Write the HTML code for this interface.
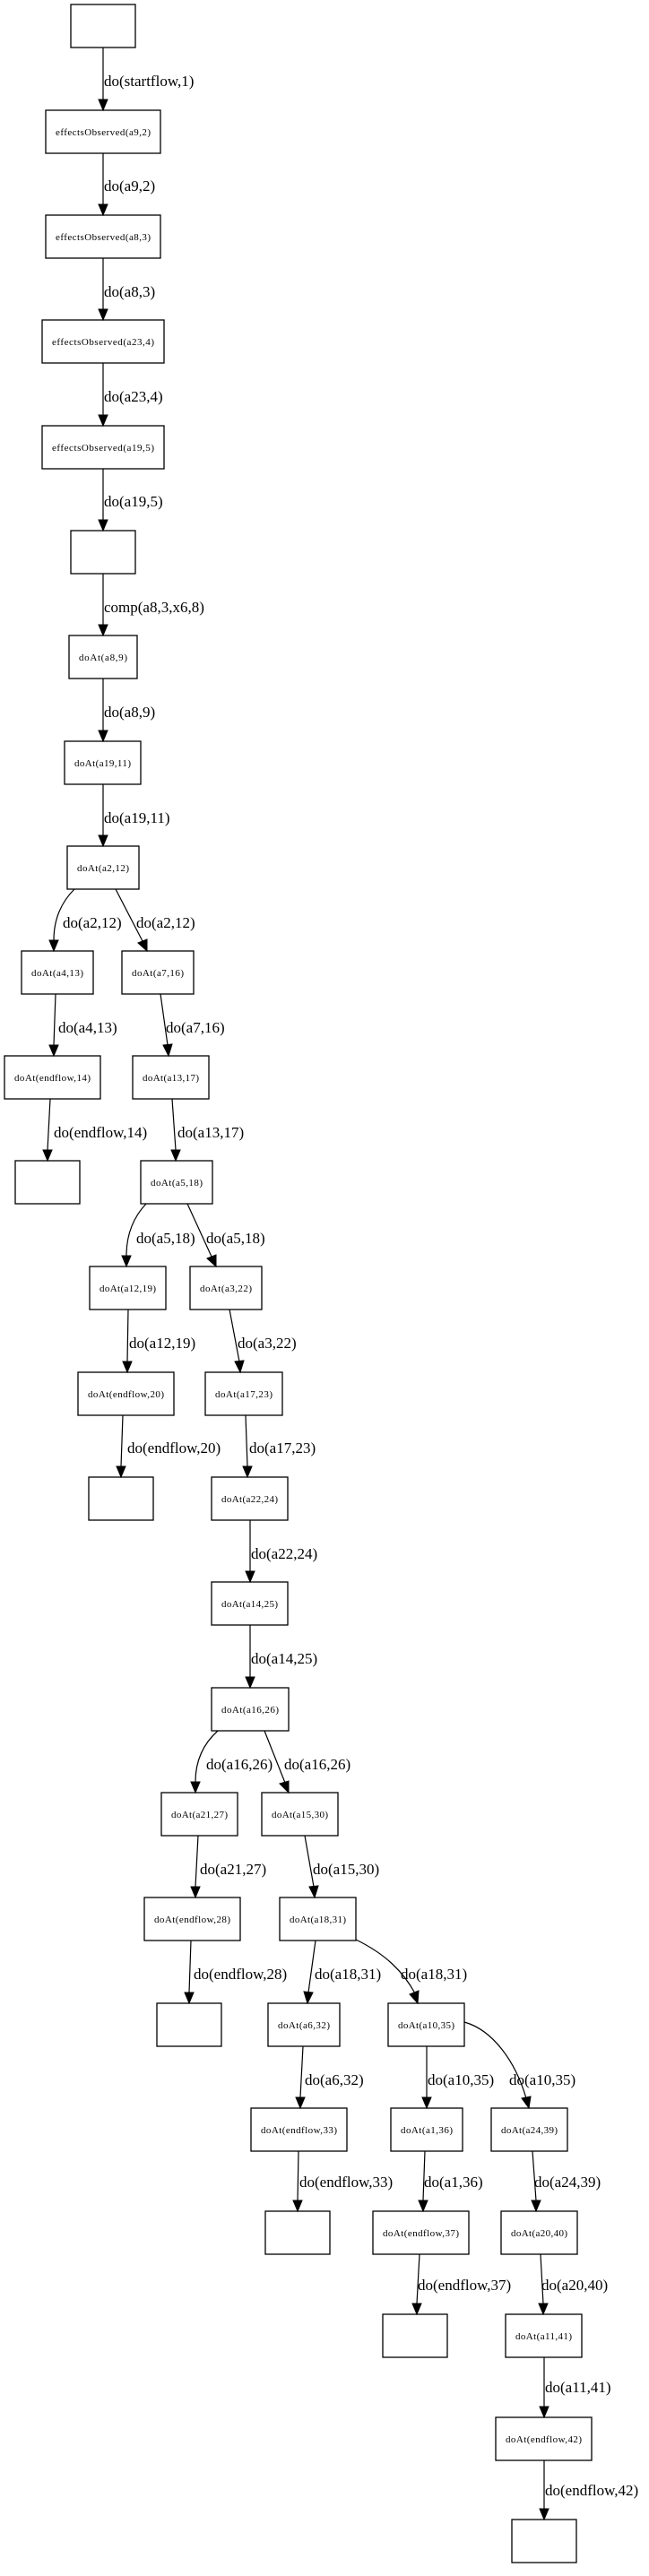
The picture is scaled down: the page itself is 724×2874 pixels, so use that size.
<!DOCTYPE html>
<html><head><meta charset="utf-8"><style>
html,body{margin:0;padding:0;background:#fff;width:724px;height:2874px;overflow:hidden}
svg{display:block}
.n{fill:#fff;stroke:#000;stroke-width:1.3}
.t{font-family:"Liberation Serif",serif;font-size:11px;fill:#000}
.l{font-family:"Liberation Serif",serif;font-size:17px;fill:#000}
.e{fill:none;stroke:#000;stroke-width:1.2}
.a{fill:#000;stroke:#000}
</style></head><body>
<svg width="724" height="2874" viewBox="0 0 724 2874" xmlns="http://www.w3.org/2000/svg">
<g>
<rect class="n" x="79" y="5" width="72" height="48"/>
<rect class="n" x="51" y="123" width="128" height="48"/><text class="t" x="62" y="151" textLength="106">effectsObserved(a9,2)</text>
<rect class="n" x="51" y="240" width="128" height="48"/><text class="t" x="62" y="268" textLength="106">effectsObserved(a8,3)</text>
<rect class="n" x="47" y="357" width="136" height="48"/><text class="t" x="58" y="385" textLength="114">effectsObserved(a23,4)</text>
<rect class="n" x="47" y="475" width="136" height="48"/><text class="t" x="58" y="503" textLength="114">effectsObserved(a19,5)</text>
<rect class="n" x="79" y="592" width="72" height="48"/>
<rect class="n" x="77" y="709" width="76" height="48"/><text class="t" x="88" y="737" textLength="54">doAt(a8,9)</text>
<rect class="n" x="72" y="827" width="85" height="48"/><text class="t" x="83" y="855" textLength="63">doAt(a19,11)</text>
<rect class="n" x="75" y="944" width="80" height="48"/><text class="t" x="86" y="972" textLength="58">doAt(a2,12)</text>
<rect class="n" x="24" y="1061" width="80" height="48"/><text class="t" x="35" y="1089" textLength="58">doAt(a4,13)</text>
<rect class="n" x="136" y="1061" width="80" height="48"/><text class="t" x="147" y="1089" textLength="58">doAt(a7,16)</text>
<rect class="n" x="5" y="1178" width="107" height="48"/><text class="t" x="16" y="1206" textLength="85">doAt(endflow,14)</text>
<rect class="n" x="148" y="1178" width="85" height="48"/><text class="t" x="159" y="1206" textLength="63">doAt(a13,17)</text>
<rect class="n" x="17" y="1295" width="72" height="48"/>
<rect class="n" x="157" y="1295" width="80" height="48"/><text class="t" x="168" y="1323" textLength="58">doAt(a5,18)</text>
<rect class="n" x="100" y="1413" width="85" height="48"/><text class="t" x="111" y="1441" textLength="63">doAt(a12,19)</text>
<rect class="n" x="212" y="1413" width="80" height="48"/><text class="t" x="223" y="1441" textLength="58">doAt(a3,22)</text>
<rect class="n" x="87" y="1531" width="107" height="48"/><text class="t" x="98" y="1559" textLength="85">doAt(endflow,20)</text>
<rect class="n" x="229" y="1531" width="86" height="48"/><text class="t" x="240" y="1559" textLength="64">doAt(a17,23)</text>
<rect class="n" x="99" y="1648" width="72" height="48"/>
<rect class="n" x="236" y="1648" width="85" height="48"/><text class="t" x="247" y="1676" textLength="63">doAt(a22,24)</text>
<rect class="n" x="236" y="1765" width="85" height="48"/><text class="t" x="247" y="1793" textLength="63">doAt(a14,25)</text>
<rect class="n" x="236" y="1883" width="86" height="48"/><text class="t" x="247" y="1911" textLength="64">doAt(a16,26)</text>
<rect class="n" x="180" y="2000" width="85" height="48"/><text class="t" x="191" y="2028" textLength="63">doAt(a21,27)</text>
<rect class="n" x="292" y="2000" width="85" height="48"/><text class="t" x="303" y="2028" textLength="63">doAt(a15,30)</text>
<rect class="n" x="161" y="2117" width="107" height="48"/><text class="t" x="172" y="2145" textLength="85">doAt(endflow,28)</text>
<rect class="n" x="312" y="2117" width="85" height="48"/><text class="t" x="323" y="2145" textLength="63">doAt(a18,31)</text>
<rect class="n" x="175" y="2235" width="72" height="48"/>
<rect class="n" x="299" y="2235" width="80" height="48"/><text class="t" x="310" y="2263" textLength="58">doAt(a6,32)</text>
<rect class="n" x="433" y="2235" width="85" height="48"/><text class="t" x="444" y="2263" textLength="63">doAt(a10,35)</text>
<rect class="n" x="280" y="2352" width="107" height="48"/><text class="t" x="291" y="2380" textLength="85">doAt(endflow,33)</text>
<rect class="n" x="436" y="2352" width="80" height="48"/><text class="t" x="447" y="2380" textLength="58">doAt(a1,36)</text>
<rect class="n" x="548" y="2352" width="85" height="48"/><text class="t" x="559" y="2380" textLength="63">doAt(a24,39)</text>
<rect class="n" x="296" y="2467" width="72" height="48"/>
<rect class="n" x="416" y="2467" width="107" height="48"/><text class="t" x="427" y="2495" textLength="85">doAt(endflow,37)</text>
<rect class="n" x="559" y="2467" width="85" height="48"/><text class="t" x="570" y="2495" textLength="63">doAt(a20,40)</text>
<rect class="n" x="427" y="2582" width="72" height="48"/>
<rect class="n" x="564" y="2582" width="85" height="48"/><text class="t" x="575" y="2610" textLength="63">doAt(a11,41)</text>
<rect class="n" x="553" y="2697" width="107" height="48"/><text class="t" x="564" y="2725" textLength="85">doAt(endflow,42)</text>
<rect class="n" x="571" y="2811" width="72" height="48"/>
</g>
<g>
<path class="e" d="M115,53 L115,111"/><polygon class="a" points="110,111 120,111 115,123"/><text class="l" x="116" y="96">do(startflow,1)</text>
<path class="e" d="M115,171 L115,228"/><polygon class="a" points="110,228 120,228 115,240"/><text class="l" x="116" y="213">do(a9,2)</text>
<path class="e" d="M115,288 L115,345"/><polygon class="a" points="110,345 120,345 115,357"/><text class="l" x="116" y="331">do(a8,3)</text>
<path class="e" d="M115,405 L115,463"/><polygon class="a" points="110,463 120,463 115,475"/><text class="l" x="116" y="448">do(a23,4)</text>
<path class="e" d="M115,523 L115,580"/><polygon class="a" points="110,580 120,580 115,592"/><text class="l" x="116" y="565">do(a19,5)</text>
<path class="e" d="M115,640 L115,697"/><polygon class="a" points="110,697 120,697 115,709"/><text class="l" x="116" y="683">comp(a8,3,x6,8)</text>
<path class="e" d="M115,757 L115,815"/><polygon class="a" points="110,815 120,815 115,827"/><text class="l" x="116" y="800">do(a8,9)</text>
<path class="e" d="M115,875 L115,932"/><polygon class="a" points="110,932 120,932 115,944"/><text class="l" x="116" y="918">do(a19,11)</text>

<path class="e" d="M83,992 C65,1010 60,1030 60,1049"/><polygon class="a" points="55,1049 65,1049 60,1061"/><text class="l" x="70" y="1035">do(a2,12)</text>
<path class="e" d="M129,992 L159,1050"/><polygon class="a" points="154,1052 164,1048 164,1061"/><text class="l" x="152" y="1035">do(a2,12)</text>

<path class="e" d="M62,1109 L60,1166"/><polygon class="a" points="55,1166 65,1166 60,1178"/><text class="l" x="65" y="1152">do(a4,13)</text>
<path class="e" d="M179,1109 L187,1166"/><polygon class="a" points="182,1166 192,1165 188,1178"/><text class="l" x="185" y="1152">do(a7,16)</text>

<path class="e" d="M56,1226 L53,1283"/><polygon class="a" points="48,1283 58,1283 53,1295"/><text class="l" x="60" y="1269">do(endflow,14)</text>
<path class="e" d="M192,1226 L196,1283"/><polygon class="a" points="191,1283 201,1283 196,1295"/><text class="l" x="198" y="1269">do(a13,17)</text>

<path class="e" d="M163,1343 C147,1360 141,1380 141,1401"/><polygon class="a" points="136,1401 146,1401 141,1413"/><text class="l" x="152" y="1387">do(a5,18)</text>
<path class="e" d="M209,1343 L236,1402"/><polygon class="a" points="231,1404 241,1400 241,1413"/><text class="l" x="230" y="1387">do(a5,18)</text>

<path class="e" d="M143,1461 L142,1519"/><polygon class="a" points="137,1519 147,1519 142,1531"/><text class="l" x="144" y="1504">do(a12,19)</text>
<path class="e" d="M256,1461 L267,1519"/><polygon class="a" points="262,1519 272,1518 268,1531"/><text class="l" x="265" y="1504">do(a3,22)</text>

<path class="e" d="M137,1579 L135,1636"/><polygon class="a" points="130,1636 140,1636 135,1648"/><text class="l" x="142" y="1621">do(endflow,20)</text>
<path class="e" d="M274,1579 L276,1636"/><polygon class="a" points="271,1636 281,1636 276,1648"/><text class="l" x="278" y="1621">do(a17,23)</text>

<path class="e" d="M279,1696 L279,1753"/><polygon class="a" points="274,1753 284,1753 279,1765"/><text class="l" x="280" y="1739">do(a22,24)</text>
<path class="e" d="M279,1813 L279,1871"/><polygon class="a" points="274,1871 284,1871 279,1883"/><text class="l" x="280" y="1856">do(a14,25)</text>

<path class="e" d="M243,1931 C224,1948 218,1968 218,1988"/><polygon class="a" points="213,1988 223,1988 218,2000"/><text class="l" x="230" y="1974">do(a16,26)</text>
<path class="e" d="M295,1931 L318,1989"/><polygon class="a" points="312,1990 322,1987 322,2000"/><text class="l" x="317" y="1974">do(a16,26)</text>

<path class="e" d="M221,2048 L218,2105"/><polygon class="a" points="213,2105 223,2105 218,2117"/><text class="l" x="223" y="2091">do(a21,27)</text>
<path class="e" d="M340,2048 L350,2105"/><polygon class="a" points="345,2105 355,2104 351,2117"/><text class="l" x="349" y="2091">do(a15,30)</text>

<path class="e" d="M213,2165 L211,2223"/><polygon class="a" points="206,2223 216,2223 211,2235"/><text class="l" x="216" y="2208">do(endflow,28)</text>
<path class="e" d="M352,2165 L344,2223"/><polygon class="a" points="339,2222 349,2223 343,2235"/><text class="l" x="351" y="2208">do(a18,31)</text>
<path class="e" d="M397,2164 C430,2180 450,2200 463,2224"/><polygon class="a" points="457,2225 467,2221 466,2235"/><text class="l" x="447" y="2208">do(a18,31)</text>

<path class="e" d="M338,2283 L335,2340"/><polygon class="a" points="330,2340 340,2340 335,2352"/><text class="l" x="340" y="2326">do(a6,32)</text>
<path class="e" d="M476,2283 L476,2340"/><polygon class="a" points="471,2340 481,2340 476,2352"/><text class="l" x="477" y="2326">do(a10,35)</text>
<path class="e" d="M518,2256 C550,2265 575,2300 587,2341"/><polygon class="a" points="582,2341 592,2339 590,2352"/><text class="l" x="568" y="2326">do(a10,35)</text>

<path class="e" d="M333,2400 L332,2455"/><polygon class="a" points="327,2455 337,2455 332,2467"/><text class="l" x="334" y="2440">do(endflow,33)</text>
<path class="e" d="M474,2400 L472,2455"/><polygon class="a" points="467,2455 477,2455 472,2467"/><text class="l" x="473" y="2440">do(a1,36)</text>
<path class="e" d="M594,2400 L598,2455"/><polygon class="a" points="593,2455 603,2455 598,2467"/><text class="l" x="596" y="2440">do(a24,39)</text>

<path class="e" d="M468,2515 L465,2570"/><polygon class="a" points="460,2570 470,2570 465,2582"/><text class="l" x="466" y="2555">do(endflow,37)</text>
<path class="e" d="M603,2515 L606,2570"/><polygon class="a" points="601,2570 611,2570 606,2582"/><text class="l" x="604" y="2555">do(a20,40)</text>

<path class="e" d="M607,2630 L607,2685"/><polygon class="a" points="602,2685 612,2685 607,2697"/><text class="l" x="608" y="2669">do(a11,41)</text>
<path class="e" d="M607,2745 L607,2799"/><polygon class="a" points="602,2799 612,2799 607,2811"/><text class="l" x="608" y="2784">do(endflow,42)</text>
</g>
</svg>
</body></html>
